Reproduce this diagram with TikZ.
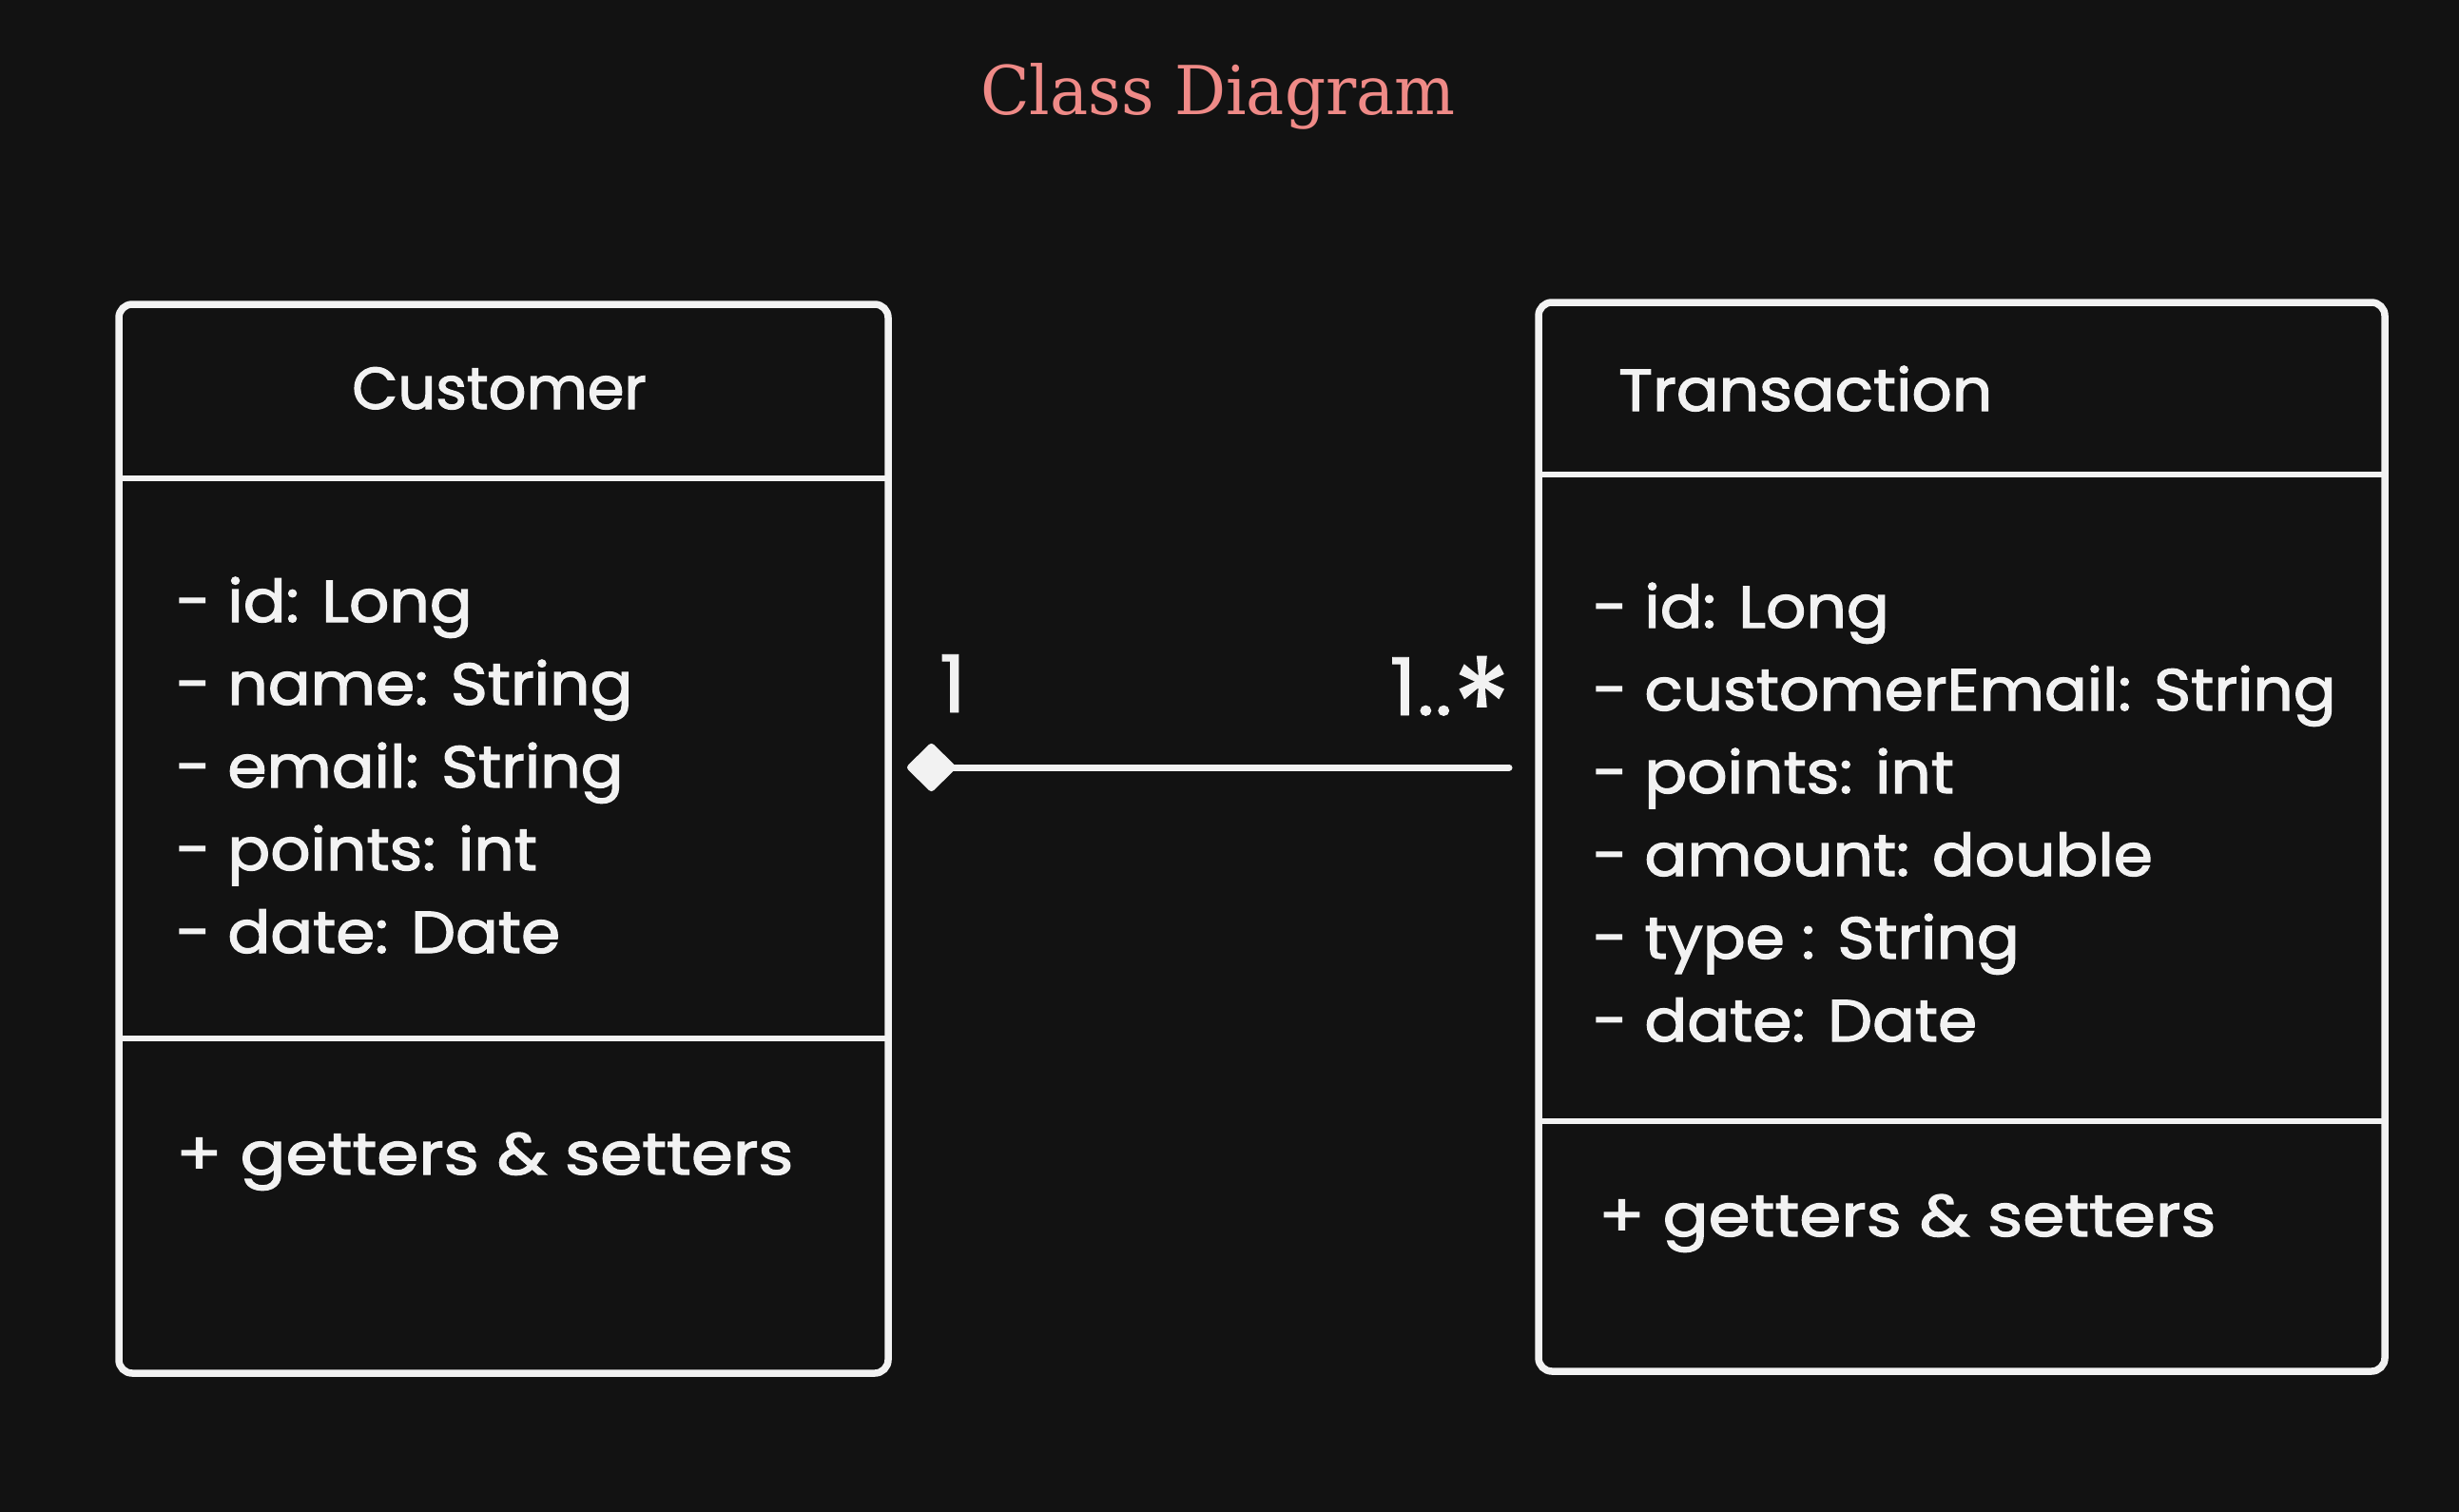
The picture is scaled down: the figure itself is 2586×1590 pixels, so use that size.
\documentclass[tikz,border=0pt]{standalone}
\usepackage{fontspec}
\setmainfont{DejaVu Serif}
\newfontfamily\hand[FakeStretch=1.07,FakeBold=2]{Poppins}
\newfontfamily\handthin[FakeStretch=1.07,FakeBold=1]{Poppins}
\newfontfamily\titlefont[FakeStretch=0.95]{DejaVu Serif}
\usetikzlibrary{arrows.meta}
\definecolor{bg}{HTML}{121212}
\definecolor{ink}{HTML}{F2F2F2}
\definecolor{titlec}{HTML}{EF8A87}
\begin{document}
\begin{tikzpicture}[x=1pt,y=-1pt,
  classbox/.style={draw=ink, line width=7.5pt, rounded corners=14pt, inner sep=0pt, outer sep=0pt},
  divider/.style={draw=ink, line width=6.5pt},
  txt/.style={text=ink, inner sep=0pt, font=\hand\fontsize{62}{75}\selectfont},
  mult/.style={text=ink, inner sep=0pt, font=\handthin\fontsize{84}{100}\selectfont},
  conn/.style={draw=ink, line width=7pt, line cap=round, {Diamond[length=54pt,width=53pt,round,fill=ink]}-, shorten <=20pt, shorten >=31pt},
]
\fill[bg] (0,0) rectangle (2586,1590);
\useasboundingbox (0,0) rectangle (2586,1590);

\node[anchor=base, text=titlec, inner sep=0pt, font=\titlefont\fontsize{71}{80}\selectfont] (title) at (1281,120) {Class Diagram};

\node[classbox, minimum width=809pt, minimum height=1124pt] (cust) at (529.5,882) {};
\node[classbox, minimum width=890pt, minimum height=1124pt] (trans) at (2063,880) {};

\draw[divider] (cust.west |- 0,503) -- (cust.east |- 0,503);
\draw[divider] (cust.west |- 0,1092) -- (cust.east |- 0,1092);
\draw[divider] (trans.west |- 0,499) -- (trans.east |- 0,499);
\draw[divider] (trans.west |- 0,1179) -- (trans.east |- 0,1179);

\node[txt, anchor=base] (custname) at (525,430) {\scalebox{0.94}[1]{Customer}};
\node[txt, anchor=base west] (transname) at (1702,432) {Transaction};

\foreach \t [count=\i from 0] in {{- id: Long},{- name: String},{- email: String},{- points: int},{- date: Date}}
  \node[txt, anchor=base west] (ca\i) at (185,654+87*\i) {\t};
\node[txt, anchor=base west] (cm) at (185,1235) {\scalebox{1.07}[1]{+ getters \& setters}};

\foreach \t [count=\i from 0] in {{- id: Long},{- customerEmail: String},{- points: int},{- amount: double},{- type : String},{- date: Date}}
  \node[txt, anchor=base west] (ta\i) at (1675,660+87*\i) {\t};
\node[txt, anchor=base west] (tm) at (1681,1300) {\scalebox{1.07}[1]{+ getters \& setters}};

\node[mult, anchor=base] (m1) at (1002,749) {1};
\node[mult, anchor=base east] (m2) at (1589,752) {1..\raisebox{-42pt}{\scalebox{1.4}[1.68]{*}}};

\coordinate (lv) at (0,807);
\draw[conn] (cust.east |- lv) -- (trans.west |- lv);
\end{tikzpicture}
\end{document}
